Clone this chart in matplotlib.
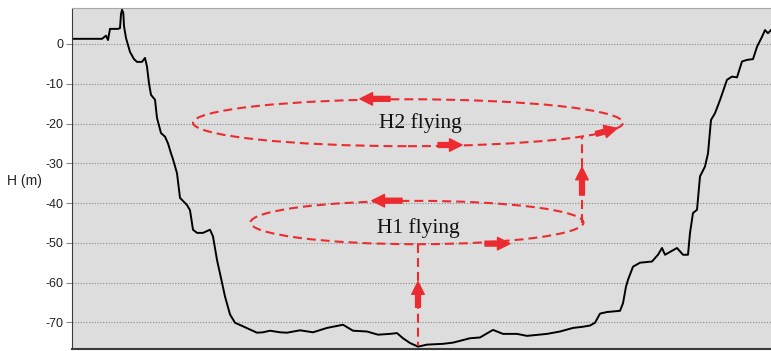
import numpy as np
import matplotlib
matplotlib.use("Agg")
import matplotlib.pyplot as plt
from matplotlib.patches import Ellipse

# cross-section of the valley: distance along profile (m) and height H (m)
dist = [2, 30, 34, 36, 38, 46, 48, 49, 50, 51.3, 52, 54, 58, 62, 65, 70, 73, 75,
        77, 79, 83, 85, 89, 93, 96, 99, 101, 105, 108, 110, 115, 118, 121, 125,
        131, 138, 141, 145, 150, 153, 158, 163, 171, 185, 191, 198, 208, 215,
        228, 241, 255, 271, 281, 295, 306, 318, 325, 331, 338, 346, 355, 371,
        381, 398, 408, 421, 431, 445, 455, 475, 488, 501, 511, 518, 523, 528,
        535, 548, 551, 554, 556, 561, 568, 580, 586, 590, 593, 605, 611, 616,
        618, 621, 625, 628, 633, 636, 639, 643, 648, 655, 660, 665, 670, 675,
        681, 685, 690, 693, 696, 699]
height = [1.3, 1.3, 2.1, 1.0, 3.8, 3.8, 4.0, 7.5, 8.6, 7.8, 4.5, 1.5, -2.0,
          -3.8, -4.5, -4.5, -3.5, -5.7, -9.9, -12.8, -14.0, -18.6, -22.4,
          -23.3, -25.0, -27.5, -29.0, -32.5, -38.7, -39.2, -40.5, -41.8, -46.7,
          -47.5, -47.5, -46.7, -48.4, -54.3, -60.0, -63.5, -68.0, -70.1, -71.0,
          -72.6, -72.5, -72.1, -72.5, -72.6, -72.0, -72.5, -71.4, -70.6, -72.1,
          -72.3, -73.1, -72.9, -72.7, -74.0, -75.2, -76.1, -75.6, -75.4, -75.1,
          -74.0, -73.8, -71.9, -72.9, -72.9, -73.4, -72.9, -72.3, -71.4, -71.1,
          -70.8, -70.1, -67.8, -67.4, -67.1, -65.2, -61.0, -59.3, -56.0, -55.0,
          -54.7, -53.0, -51.3, -53.0, -51.3, -53.0, -53.0, -47.5, -42.5, -41.7,
          -33.3, -30.8, -27.5, -19.1, -17.4, -14.1, -9.0, -8.2, -8.4, -4.4,
          -4.0, -3.8, -0.7, 1.8, 3.5, 2.7, 3.5]

# flight loops: centre distance, centre height, length, height span
h1_loop = (345, -44.9, 333, 10.9)
h2_loop = (336, -19.8, 430, 11.8)
h1_label = "H1 flying"
h2_label = "H2 flying"
climb1_x = 346      # ground -> H1
climb2_x = 510      # H1 -> H2

yticks = [0, -10, -20, -30, -40, -50, -60, -70]

red = "#ec2b30"
dash = (0, (4.3, 2.4))

fig = plt.figure(figsize=(7.71, 3.51), dpi=100)
ax = fig.add_axes([72 / 771, 2 / 351, 699 / 771, 341 / 351])
ax.set_facecolor("#dcdddc")

ax.plot(dist, height, color="black", lw=1.4, zorder=3)

for cx, cy, w, h in (h1_loop, h2_loop):
    ax.add_patch(Ellipse((cx, cy), w, h, fill=False, edgecolor=red,
                         lw=1.5, linestyle=dash, zorder=4))

# vertical climb lines
h1_bottom = h1_loop[1] - h1_loop[3] / 2
ax.plot([climb1_x, climb1_x], [h1_bottom, -76.0], color=red, lw=1.5,
        linestyle=dash, zorder=4)
u = (climb2_x - h2_loop[0]) / (h2_loop[2] / 2)
h2_at_climb = h2_loop[1] - h2_loop[3] / 2 * np.sqrt(1 - u ** 2)
ax.plot([climb2_x, climb2_x], [h1_loop[1], h2_at_climb], color=red, lw=1.5,
        linestyle=dash, zorder=4)

# direction arrows (tail -> head)
arrows = [
    ((318, -13.8), (288, -13.8)),
    ((366, -25.4), (390, -25.4)),
    ((330, -39.4), (300, -39.4)),
    ((413, -50.2), (438, -50.2)),
    ((346, -66.2), (346, -59.8)),
    ((510, -38.0), (510, -31.0)),
    ((524, -22.6), (545, -21.2)),
]
for tail, head in arrows:
    ax.annotate("", xy=head, xytext=tail, zorder=5,
                arrowprops=dict(arrowstyle="simple,head_length=0.9,head_width=0.9,tail_width=0.35",
                                color=red, shrinkA=0, shrinkB=0, mutation_scale=10))

ax.text(348, -21.2, h2_label, family="Liberation Serif", fontsize=15.5,
        ha="center", va="baseline", color="#111111", zorder=6)
ax.text(346, -47.6, h1_label, family="Liberation Serif", fontsize=15.5,
        ha="center", va="baseline", color="#111111", zorder=6)

ax.set_xlim(0, 699)
ax.set_ylim(-76.7, 9.05)
ax.set_xticks([])
ax.set_yticks(yticks)
ax.set_yticklabels([str(t) for t in yticks], family="Liberation Sans",
                   fontsize=9, color="#222222")
ax.tick_params(axis="y", length=4, width=0.8, color="#8a8a8a", pad=2)
ax.grid(axis="y", linestyle=(0, (1, 1.5)), color="#8a8a8a", lw=0.8)
ax.set_axisbelow(True)

ax.spines["right"].set_visible(False)
ax.spines["top"].set_color("#a8a8a8")
ax.spines["left"].set_color("#3a3a3a")
ax.spines["bottom"].set_color("#3a3a3a")
ax.spines["bottom"].set_linewidth(1.5)

fig.text(7 / 771, 1 - 181 / 351, "H (m)", family="Liberation Sans",
         fontsize=10, color="#222222", ha="left", va="center")

fig.savefig("out.png", dpi=100, facecolor="white")
